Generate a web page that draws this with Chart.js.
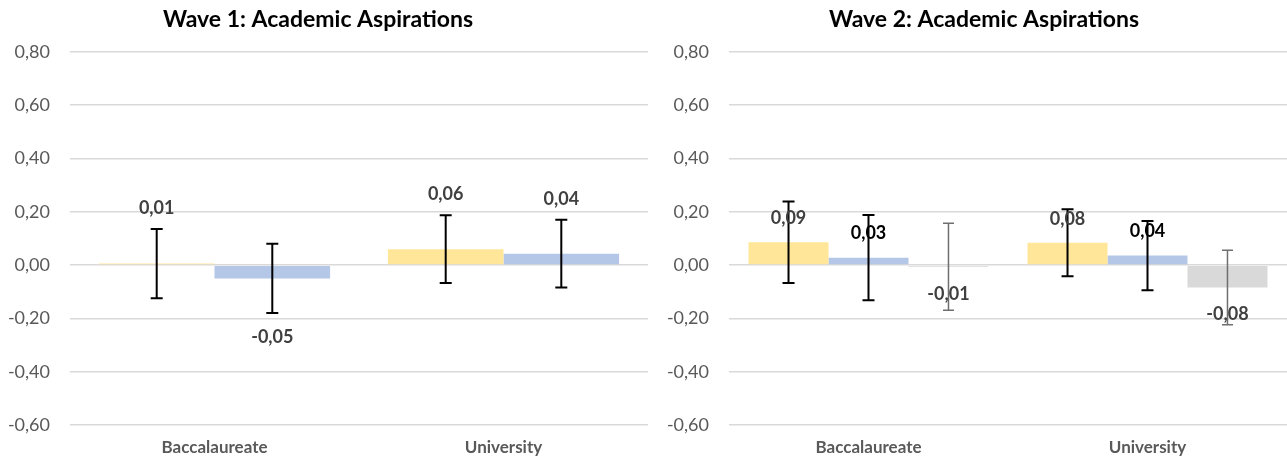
<!DOCTYPE html>
<html>
<head>
<meta charset="utf-8">
<script src="https://cdn.jsdelivr.net/npm/chart.js@4/dist/chart.umd.min.js"></script>
<style>
  body { margin: 0; background: #fff; }
  .wrap { position: absolute; top: 0; }
  #w1 { left: 0; }
  #w2 { left: 648px; }
</style>
</head>
<body>
<div class="wrap" id="w1"><canvas id="wave1" width="648" height="461"></canvas></div>
<div class="wrap" id="w2"><canvas id="wave2" width="639" height="461"></canvas></div>
<script>
const categories = ['Baccalaureate', 'University'];

// Wave 1
const wave1Yellow = [0.006, 0.06];
const wave1YellowErr = [0.13, 0.127];
const wave1Blue = [-0.05, 0.043];
const wave1BlueErr = [0.13, 0.127];

// Wave 2
const wave2Yellow = [0.086, 0.084];
const wave2YellowErr = [0.153, 0.126];
const wave2Blue = [0.028, 0.036];
const wave2BlueErr = [0.16, 0.13];
const wave2Gray = [-0.006, -0.084];
const wave2GrayErr = [0.163, 0.14];

const FONT = 'Lato, "Open Sans", sans-serif';

function fmt(v) {
    if (Math.abs(v) < 1e-9) v = 0;
    return v.toFixed(2).replace('.', ',');
}

// title drawn by hand so it can sit off-centre like the original
const titlePlugin = {
    id: 'sheetTitle',
    afterDraw(chart, args, opts) {
        const { ctx } = chart;
        ctx.save();
        ctx.fillStyle = '#000';
        ctx.font = 'bold 23px ' + FONT;
        ctx.textAlign = 'center';
        ctx.textBaseline = 'middle';
        ctx.fillText(opts.text, opts.x, 20);
        ctx.restore();
    }
};

// error bars + value labels
const errorBarPlugin = {
    id: 'errorBars',
    afterDatasetsDraw(chart, args, opts) {
        const { ctx } = chart;
        const y = chart.scales.y;
        chart.data.datasets.forEach((ds, i) => {
            const meta = chart.getDatasetMeta(i);
            meta.data.forEach((bar, j) => {
                const v = ds.data[j];
                const e = ds.errors[j];
                const top = y.getPixelForValue(v + e);
                const bot = y.getPixelForValue(v - e);
                const cap = ds.capWidth / 2;

                ctx.save();
                ctx.strokeStyle = ds.errorColor;
                ctx.lineWidth = ds.errorWidth;
                ctx.beginPath();
                ctx.moveTo(bar.x, top);
                ctx.lineTo(bar.x, bot);
                ctx.moveTo(bar.x - cap, top);
                ctx.lineTo(bar.x + cap, top);
                ctx.moveTo(bar.x - cap, bot);
                ctx.lineTo(bar.x + cap, bot);
                ctx.stroke();

                let ly;
                if (opts.labelMode === 'error') {
                    ly = v >= 0 ? top - 21 : bot + 24;
                } else {
                    ly = v >= 0 ? y.getPixelForValue(v) - 24 : y.getPixelForValue(v) + 27;
                }
                ctx.fillStyle = ds.labelColor;
                ctx.font = 'bold 18px ' + FONT;
                ctx.textAlign = 'center';
                ctx.textBaseline = 'middle';
                ctx.fillText(fmt(v), bar.x, ly);
                ctx.restore();
            });
        });
    }
};

function makeOptions(title, titleX, axisWidth, catPct, labelMode) {
    return {
        responsive: false,
        animation: false,
        layout: { padding: { top: 52, left: 0, right: 0, bottom: 0 } },
        plugins: {
            legend: { display: false },
            tooltip: { enabled: false },
            title: { display: false },
            errorBars: { labelMode: labelMode },
            sheetTitle: { text: title, x: titleX }
        },
        datasets: {
            bar: { categoryPercentage: catPct, barPercentage: 1.0 }
        },
        scales: {
            x: {
                grid: { display: false, drawTicks: false },
                border: { display: false },
                ticks: {
                    color: '#595959',
                    padding: 12,
                    font: { family: FONT, size: 17, weight: 'bold' }
                },
                afterFit(scale) { scale.height = 36; }
            },
            y: {
                min: -0.6,
                max: 0.8,
                grid: { color: '#D9D9D9', lineWidth: 1.6, drawTicks: false },
                border: { display: false },
                ticks: {
                    stepSize: 0.2,
                    color: '#595959',
                    padding: 20,
                    font: { family: FONT, size: 18 },
                    callback: v => fmt(v)
                },
                afterFit(scale) { scale.width = axisWidth; }
            }
        }
    };
}

new Chart(document.getElementById('wave1'), {
    type: 'bar',
    data: {
        labels: categories,
        datasets: [
            {
                data: wave1Yellow, errors: wave1YellowErr,
                backgroundColor: '#FFE699', borderWidth: 0,
                errorColor: '#000', errorWidth: 2, capWidth: 12, labelColor: '#404040'
            },
            {
                data: wave1Blue, errors: wave1BlueErr,
                backgroundColor: '#B4C7E7', borderWidth: 0,
                errorColor: '#000', errorWidth: 2, capWidth: 12, labelColor: '#404040'
            }
        ]
    },
    options: makeOptions('Wave 1: Academic Aspirations', 318, 70, 0.8, 'error'),
    plugins: [errorBarPlugin, titlePlugin]
});

new Chart(document.getElementById('wave2'), {
    type: 'bar',
    data: {
        labels: categories,
        datasets: [
            {
                data: wave2Yellow, errors: wave2YellowErr,
                backgroundColor: '#FFE699', borderWidth: 0,
                errorColor: '#000', errorWidth: 2, capWidth: 12, labelColor: '#404040'
            },
            {
                data: wave2Blue, errors: wave2BlueErr,
                backgroundColor: '#B4C7E7', borderWidth: 0,
                errorColor: '#000', errorWidth: 2, capWidth: 12, labelColor: '#000'
            },
            {
                data: wave2Gray, errors: wave2GrayErr,
                backgroundColor: '#D9D9D9', borderWidth: 0,
                errorColor: '#6f6f6f', errorWidth: 1.5, capWidth: 11, labelColor: '#404040'
            }
        ]
    },
    options: makeOptions('Wave 2: Academic Aspirations', 336, 81, 0.86, 'bar'),
    plugins: [errorBarPlugin, titlePlugin]
});
</script>
</body>
</html>
